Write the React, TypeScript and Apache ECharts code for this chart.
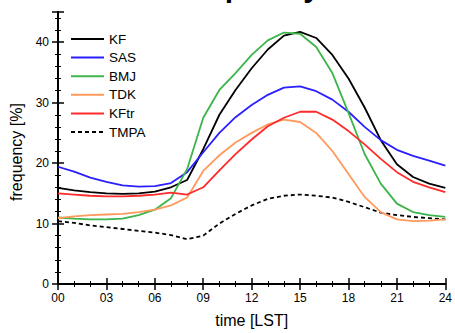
import React, { useEffect, useRef } from "react";
import * as echarts from "echarts";

// Local hour of day (LST)
const hours = [0, 1, 2, 3, 4, 5, 6, 7, 8, 9, 10, 11, 12, 13, 14, 15, 16, 17, 18, 19, 20, 21, 22, 23, 24];

// Diurnal precipitation frequency [%] per scheme
const kf = [15.9, 15.5, 15.2, 15.0, 14.9, 15.0, 15.3, 16.0, 17.2, 22.3, 28.0, 32.1, 35.7, 38.8, 41.1, 41.7, 40.7, 37.9, 34.0, 29.2, 23.8, 19.8, 17.7, 16.6, 15.9];
const sas = [19.4, 18.6, 17.6, 16.9, 16.3, 16.1, 16.2, 16.7, 18.5, 21.8, 25.0, 27.6, 29.6, 31.3, 32.5, 32.7, 31.9, 30.5, 28.5, 26.0, 23.8, 22.2, 21.2, 20.4, 19.6];
const bmj = [11.0, 10.8, 10.7, 10.7, 10.8, 11.4, 12.3, 14.2, 19.0, 27.5, 32.1, 34.9, 37.9, 40.3, 41.6, 41.4, 39.2, 34.9, 28.3, 21.5, 16.6, 13.3, 11.9, 11.4, 11.1];
const tdk = [10.9, 11.2, 11.4, 11.5, 11.6, 11.9, 12.3, 13.0, 14.3, 18.7, 21.3, 23.4, 25.0, 26.4, 27.2, 26.8, 25.0, 22.0, 18.2, 14.4, 11.9, 10.7, 10.4, 10.5, 10.7];
const kftr = [15.0, 14.8, 14.6, 14.5, 14.5, 14.6, 14.8, 15.1, 14.8, 16.0, 18.8, 21.5, 23.9, 26.1, 27.5, 28.5, 28.5, 27.2, 25.3, 23.1, 20.7, 18.5, 16.9, 16.0, 15.2];
const tmpa = [10.4, 10.1, 9.7, 9.4, 9.1, 8.8, 8.5, 8.1, 7.4, 8.0, 10.0, 11.6, 13.0, 14.1, 14.6, 14.8, 14.6, 14.3, 13.6, 12.7, 11.8, 11.4, 11.1, 10.9, 10.7];

const seriesNames = ["KF", "SAS", "BMJ", "TDK", "KFtr", "TMPA"];
const seriesData = [kf, sas, bmj, tdk, kftr, tmpa];
const seriesColors = ["#000000", "#2a1fff", "#3cb44a", "#ff9a5c", "#ff2a2a", "#000000"];

const FONT = "'Liberation Sans', Arial, sans-serif";

export default function App() {
  const ref = useRef<HTMLDivElement>(null);

  useEffect(() => {
    document.body.style.margin = "0";
    if (!ref.current) return;
    const chart = echarts.init(ref.current, undefined, { renderer: "svg" });

    const axisLine = { show: true, lineStyle: { color: "#000", width: 2 } };
    const axisTick = { show: true, inside: true, length: 6, lineStyle: { color: "#000", width: 1.5 } };
    const minorLine = { color: "#000", width: 1 };

    const xBase = {
      type: "value",
      min: 0,
      max: 24,
      interval: 3,
      axisLine,
      axisTick,
      minorTick: { show: true, splitNumber: 3, length: 3, lineStyle: minorLine },
      splitLine: { show: false },
    };
    const yBase = {
      type: "value",
      min: 0,
      max: 45,
      interval: 10,
      axisLine,
      axisTick,
      minorTick: { show: true, splitNumber: 5, length: 3, lineStyle: minorLine },
      splitLine: { show: false },
    };

    chart.setOption({
      animation: false,
      textStyle: { fontFamily: FONT },
      title: {
        text: "Frequency",
        left: 244,
        textAlign: "center",
        top: -28.5,
        padding: 0,
        textStyle: { fontSize: 30, fontWeight: "bold", color: "#000", fontFamily: FONT },
      },
      grid: { left: 58, right: 4, top: 12, bottom: 47 },
      legend: {
        orient: "vertical",
        left: 70,
        top: 32,
        padding: 0,
        itemWidth: 33,
        itemHeight: 14,
        itemGap: 4.6,
        itemStyle: { opacity: 0 },
        textStyle: { fontSize: 13.5, color: "#000", fontFamily: FONT },
        data: seriesNames,
      },
      xAxis: [
        {
          ...xBase,
          position: "bottom",
          axisLabel: {
            color: "#000",
            fontSize: 12,
            margin: 8,
            formatter: (v: number) => String(v).padStart(2, "0"),
          },
          name: "time [LST]",
          nameLocation: "middle",
          nameGap: 28,
          nameTextStyle: { fontSize: 16, color: "#000", fontFamily: FONT },
        },
        {
          ...xBase,
          position: "top",
          axisLabel: { show: false },
        },
      ],
      yAxis: [
        {
          ...yBase,
          position: "left",
          axisLabel: {
            color: "#000",
            fontSize: 12,
            margin: 9,
            formatter: (v: number) => (v % 10 === 0 ? String(v) : ""),
          },
          name: "frequency [%]",
          nameLocation: "middle",
          nameGap: 33,
          nameTextStyle: { fontSize: 16, color: "#000", fontFamily: FONT, padding: [0, 0, 0, -8] },
        },
        {
          ...yBase,
          position: "right",
          axisLabel: { show: false },
        },
      ],
      series: seriesNames.map((name, i) => ({
        name,
        type: "line",
        xAxisIndex: 0,
        yAxisIndex: 0,
        data: hours.map((h, j) => [h, seriesData[i][j]]),
        showSymbol: false,
        symbol: "none",
        color: seriesColors[i],
        lineStyle: {
          color: seriesColors[i],
          width: 1.8,
          type: name === "TMPA" ? [4, 3] : "solid",
        },
        z: name === "TMPA" ? 1 : 2,
      })),
    });

    return () => chart.dispose();
  }, []);

  return <div ref={ref} style={{ width: 455, height: 333 }} />;
}
